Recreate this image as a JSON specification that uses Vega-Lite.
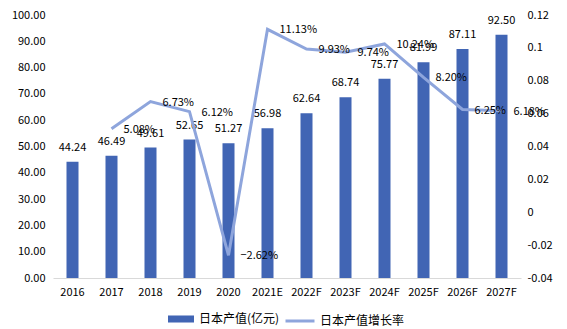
{
  "$schema": "https://vega.github.io/schema/vega-lite/v6.json",
  "width": 468,
  "height": 263,
  "autosize": {"type": "none"},
  "padding": {"left": 53, "top": 15, "right": 46, "bottom": 51},
  "background": "white",
  "config": {
    "view": {"stroke": null},
    "font": "Noto Sans CJK SC",
    "axis": {"labelFont": "Noto Sans CJK SC", "labelFontSize": 11, "labelColor": "#000000", "grid": false, "ticks": false, "title": null, "labelOverlap": false, "labelBound": false},
    "legend": {"labelFont": "Noto Sans CJK SC", "labelFontSize": 12, "labelColor": "#000000"}
  },
  "data": {
    "values": [
      {"year": "2016", "value": 44.24, "growth": null},
      {"year": "2017", "value": 46.49, "growth": 0.0508},
      {"year": "2018", "value": 49.61, "growth": 0.0673},
      {"year": "2019", "value": 52.65, "growth": 0.0612},
      {"year": "2020", "value": 51.27, "growth": -0.0262},
      {"year": "2021E", "value": 56.98, "growth": 0.1113},
      {"year": "2022F", "value": 62.64, "growth": 0.0993},
      {"year": "2023F", "value": 68.74, "growth": 0.0974},
      {"year": "2024F", "value": 75.77, "growth": 0.1024},
      {"year": "2025F", "value": 81.99, "growth": 0.082},
      {"year": "2026F", "value": 87.11, "growth": 0.0625},
      {"year": "2027F", "value": 92.50, "growth": 0.0618}
    ]
  },
  "encoding": {
    "x": {
      "field": "year", "type": "nominal", "sort": null,
      "scale": {"paddingInner": 0, "paddingOuter": 0},
      "axis": {"labelAngle": 0, "labelPadding": 8, "domain": true, "domainColor": "#d9d9d9", "domainWidth": 1}
    }
  },
  "layer": [
    {
      "encoding": {
        "y": {"field": "value", "type": "quantitative",
          "scale": {"domain": [0, 100]},
          "axis": {"values": [0,10,20,30,40,50,60,70,80,90,100], "labelOverlap": false, "format": ".2f", "domain": false, "labelPadding": 8}}
      },
      "layer": [
        {
          "mark": {"type": "bar", "size": 12},
          "encoding": {
            "fill": {"datum": "日本产值(亿元)", "type": "nominal",
              "scale": {"domain": ["日本产值(亿元)"], "range": ["#4165B4"]},
              "legend": {"orient": "none", "legendX": 114, "legendY": 290, "title": null,
                "symbolType": "M-1,-0.27H1V0.27H-1Z", "symbolSize": 676, "labelOffset": 4}}
          }
        },
        {
          "mark": {"type": "text", "baseline": "bottom", "dy": -9, "fontSize": 11, "color": "#000000"},
          "encoding": {
            "text": {"field": "value", "type": "quantitative", "format": ".2f"}
          }
        }
      ]
    },
    {
      "transform": [{"filter": "datum.growth != null"}],
      "encoding": {
        "y": {"field": "growth", "type": "quantitative",
          "scale": {"domain": [-0.04, 0.12]},
          "axis": {"orient": "right", "values": [-0.04,-0.02,0,0.02,0.04,0.06,0.08,0.1,0.12], "labelOverlap": false, "labelExpr": "replace(format(datum.value, '~g'), '−', '-')", "domain": false, "labelPadding": 6}}
      },
      "layer": [
        {
          "mark": {"type": "line", "strokeWidth": 3},
          "encoding": {
            "stroke": {"datum": "日本产值增长率", "type": "nominal",
              "scale": {"domain": ["日本产值增长率"], "range": ["#8EA5DC"]},
              "legend": {"orient": "none", "legendX": 231, "legendY": 290, "title": null,
                "symbolType": "stroke", "symbolSize": 841, "symbolStrokeWidth": 3, "labelOffset": 4}}
          }
        },
        {
          "mark": {"type": "text", "align": "left", "baseline": "middle", "dx": 12, "dy": 1, "fontSize": 11, "color": "#000000"},
          "encoding": {
            "text": {"field": "growth", "type": "quantitative", "format": ".2%"}
          }
        }
      ]
    }
  ],
  "resolve": {"scale": {"y": "independent", "fill": "independent", "stroke": "independent"}}
}
